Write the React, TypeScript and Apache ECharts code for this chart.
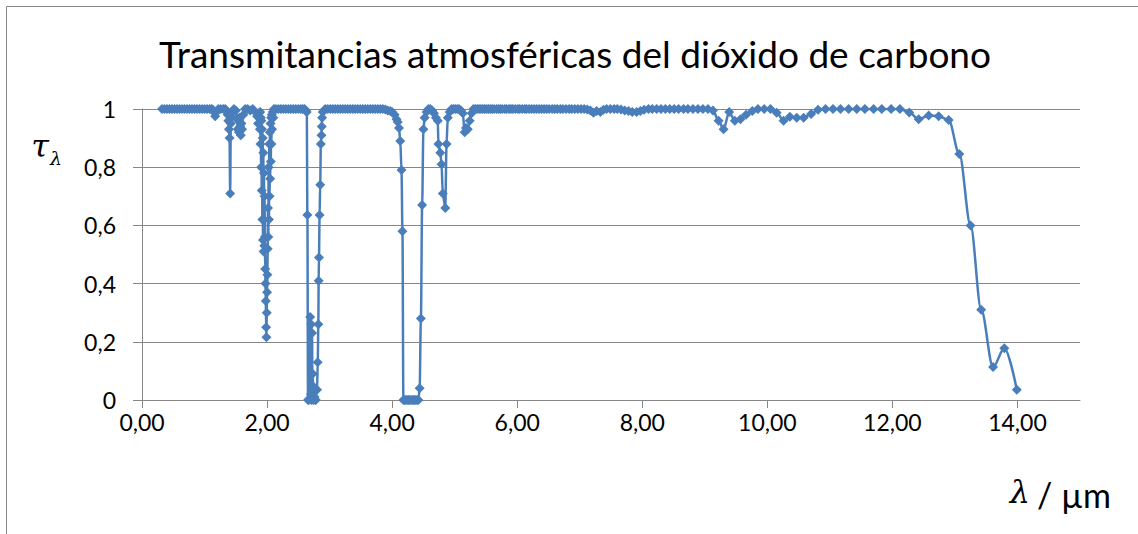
import React, { useEffect, useRef } from "react";
import * as echarts from "echarts";

const TITLE = "Transmitancias atmosféricas del dióxido de carbono";
const X_TICKS = [0, 2, 4, 6, 8, 10, 12, 14];
const Y_TICKS = [0, 0.2, 0.4, 0.6, 0.8, 1];

// [wavelength µm, transmittance]
const visNir: [number, number][] = [
  [0.32, 1], [0.36, 1], [0.40, 1], [0.44, 1], [0.48, 1], [0.52, 1], [0.56, 1], [0.60, 1],
  [0.64, 1], [0.68, 1], [0.72, 1], [0.76, 1], [0.80, 1], [0.84, 1], [0.88, 1], [0.92, 1],
  [0.96, 1], [1.00, 1], [1.04, 1], [1.08, 1], [1.11, 1], [1.13, 0.998], [1.15, 0.99],
  [1.17, 0.975], [1.19, 0.99], [1.22, 1], [1.26, 1], [1.30, 1], [1.33, 1],
];

const band14: [number, number][] = [
  [1.35, 0.995], [1.37, 0.98], [1.38, 0.96], [1.39, 0.93], [1.40, 0.9], [1.41, 0.71],
  [1.42, 0.95], [1.43, 0.97], [1.45, 0.99], [1.47, 1], [1.50, 0.995], [1.52, 0.97],
  [1.53, 0.93], [1.54, 0.96], [1.55, 0.92], [1.56, 0.97], [1.57, 0.94], [1.58, 0.91],
  [1.59, 0.95], [1.60, 0.93], [1.62, 0.98], [1.65, 1], [1.69, 1], [1.73, 0.995],
  [1.77, 1], [1.81, 0.99], [1.84, 0.975], [1.855, 0.95], [1.87, 0.985],
];

const band20: [number, number][] = [
  [1.88, 0.97], [1.885, 0.93], [1.89, 0.99], [1.895, 0.88], [1.9, 0.97], [1.905, 0.8],
  [1.91, 0.96], [1.915, 0.72], [1.92, 0.93], [1.925, 0.62], [1.93, 0.9], [1.935, 0.55],
  [1.94, 0.85], [1.945, 0.51], [1.95, 0.78], [1.955, 0.53], [1.96, 0.7], [1.965, 0.56],
  [1.97, 0.45], [1.975, 0.4], [1.98, 0.34], [1.985, 0.25], [1.99, 0.216], [1.995, 0.3],
  [2.0, 0.37], [2.005, 0.43], [2.01, 0.52], [2.015, 0.66], [2.02, 0.56], [2.025, 0.8],
  [2.03, 0.62], [2.035, 0.88], [2.04, 0.7], [2.045, 0.92], [2.05, 0.76], [2.055, 0.95],
  [2.06, 0.82], [2.065, 0.97], [2.07, 0.88], [2.075, 0.98], [2.08, 0.93], [2.09, 0.99],
  [2.1, 0.97], [2.11, 1],
];

const nir23: [number, number][] = [
  [2.14, 1], [2.18, 1], [2.22, 1], [2.26, 1], [2.30, 1], [2.34, 1], [2.38, 1],
  [2.42, 1], [2.46, 1], [2.50, 1], [2.54, 1], [2.57, 1],
];

const band27: [number, number][] = [
  [2.6, 1], [2.62, 0.995], [2.635, 0.99], [2.645, 0.636], [2.655, 0], [2.67, 0],
  [2.68, 0.005], [2.69, 0.285], [2.7, 0.02], [2.705, 0.26], [2.71, 0], [2.72, 0.23],
  [2.725, 0.01], [2.73, 0.09], [2.74, 0], [2.75, 0.045], [2.76, 0.01], [2.77, 0],
  [2.78, 0], [2.8, 0.035], [2.81, 0.13], [2.82, 0.26], [2.825, 0.41], [2.83, 0.49],
  [2.84, 0.636], [2.85, 0.74], [2.86, 0.88], [2.87, 0.91], [2.875, 0.94], [2.88, 0.97],
  [2.89, 0.99], [2.91, 0.995], [2.93, 1],
];

const mwir: [number, number][] = [
  [2.97, 1], [3.01, 1], [3.05, 1], [3.09, 1], [3.13, 1], [3.17, 1], [3.21, 1], [3.25, 1],
  [3.29, 1], [3.33, 1], [3.37, 1], [3.41, 1], [3.45, 1], [3.49, 1], [3.53, 1], [3.57, 1],
  [3.61, 1], [3.65, 1], [3.69, 1], [3.73, 1], [3.77, 1], [3.81, 1], [3.85, 1],
  [3.89, 0.998], [3.93, 0.995], [3.97, 0.993],
];

const band43: [number, number][] = [
  [4.0, 0.99], [4.04, 0.98], [4.07, 0.965], [4.09, 0.955], [4.11, 0.935], [4.13, 0.89],
  [4.15, 0.79], [4.165, 0.58], [4.18, 0], [4.2, 0], [4.22, 0], [4.24, 0], [4.26, 0],
  [4.28, 0], [4.3, 0], [4.32, 0], [4.34, 0], [4.36, 0], [4.38, 0], [4.4, 0], [4.42, 0],
  [4.44, 0.04], [4.46, 0.28], [4.48, 0.67], [4.5, 0.93], [4.52, 0.97], [4.55, 0.99],
  [4.58, 1], [4.61, 1], [4.64, 0.995], [4.67, 0.985], [4.7, 0.97], [4.73, 0.96],
  [4.74, 0.88], [4.77, 0.85], [4.79, 0.81], [4.81, 0.71], [4.85, 0.66], [4.87, 0.88],
  [4.89, 0.97], [4.92, 0.99], [4.95, 1], [4.98, 1], [5.01, 1], [5.04, 1], [5.07, 1],
  [5.1, 0.995], [5.13, 0.985], [5.16, 0.92], [5.18, 0.935], [5.21, 0.93], [5.24, 0.96],
  [5.27, 0.985], [5.3, 1],
];

const lwir: [number, number][] = [
  [5.33, 1], [5.36, 1], [5.39, 1], [5.42, 1], [5.45, 1], [5.48, 1], [5.51, 1], [5.54, 1],
  [5.57, 1], [5.6, 1], [5.63, 1], [5.67, 1], [5.7, 1], [5.73, 1], [5.76, 1], [5.8, 1],
  [5.83, 1], [5.87, 1], [5.9, 1], [5.93, 1], [5.97, 1], [6.01, 1], [6.04, 1], [6.08, 1],
  [6.12, 1], [6.15, 1], [6.19, 1], [6.23, 1], [6.27, 1], [6.31, 1], [6.35, 1], [6.39, 1],
  [6.43, 1], [6.47, 1], [6.51, 1], [6.56, 1], [6.6, 1], [6.64, 1], [6.69, 1], [6.73, 1],
  [6.78, 1], [6.83, 1], [6.87, 1], [6.92, 1], [6.97, 1], [7.02, 1], [7.07, 1],
  [7.12, 0.998], [7.17, 0.995], [7.22, 0.987], [7.27, 0.993], [7.33, 0.99], [7.38, 0.997],
  [7.43, 1], [7.49, 1], [7.55, 1], [7.6, 1], [7.66, 0.998], [7.72, 0.995], [7.78, 0.993],
  [7.84, 0.99], [7.91, 0.99], [7.97, 0.993], [8.03, 0.997], [8.1, 1], [8.16, 1], [8.23, 1],
  [8.3, 1], [8.37, 1], [8.44, 1], [8.51, 1], [8.58, 1], [8.66, 1], [8.73, 1], [8.81, 1],
  [8.89, 1], [8.97, 1], [9.05, 1], [9.13, 0.995],
];

const band96: [number, number][] = [
  [9.22, 0.96], [9.3, 0.93], [9.39, 0.99], [9.48, 0.96], [9.57, 0.965], [9.66, 0.98],
  [9.76, 0.993], [9.85, 1], [9.95, 1], [10.05, 1], [10.15, 0.987], [10.26, 0.96],
  [10.36, 0.973], [10.47, 0.97], [10.58, 0.97], [10.7, 0.983], [10.81, 0.997], [10.93, 1],
  [11.05, 1], [11.17, 1], [11.3, 1], [11.43, 1], [11.56, 1], [11.7, 1], [11.83, 1],
  [11.98, 1], [12.12, 1],
];

const band15: [number, number][] = [
  [12.27, 0.988], [12.42, 0.965], [12.58, 0.978], [12.74, 0.975], [12.9, 0.962],
  [13.07, 0.845], [13.25, 0.6], [13.42, 0.31], [13.61, 0.113], [13.79, 0.178], [13.99, 0.035],
];

const GRAY = "#868686";
const BLUE = "#4a7ebb";
const FONT = "Lato, 'Open Sans', sans-serif";

export default function App() {
  const ref = useRef<HTMLDivElement>(null);
  useEffect(() => {
    const chart = echarts.init(ref.current!, null, { renderer: "svg" });
    const data = [
      ...visNir, ...band14, ...band20, ...nir23, ...band27, ...mwir,
      ...band43, ...lwir, ...band96, ...band15,
    ];
    chart.setOption({
      animation: false,
      backgroundColor: "#ffffff",
      grid: { left: 142, right: 58, top: 109, bottom: 134, containLabel: false },
      xAxis: {
        type: "value",
        min: 0,
        max: 15,
        interval: 2,
        axisLine: { show: true, lineStyle: { color: GRAY, width: 1 } },
        axisTick: { show: true, customValues: X_TICKS, length: 8, lineStyle: { color: GRAY } },
        splitLine: { show: false },
        axisLabel: {
          customValues: X_TICKS,
          margin: 10,
          color: "#000",
          fontFamily: FONT,
          fontSize: 23,
          formatter: (v: number) => v.toFixed(2).replace(".", ","),
        },
      },
      yAxis: {
        type: "value",
        min: 0,
        max: 1,
        interval: 0.2,
        axisLine: { show: true, lineStyle: { color: GRAY, width: 1 } },
        axisTick: { show: true, length: 9, lineStyle: { color: GRAY } },
        splitLine: { show: true, lineStyle: { color: GRAY, width: 1 } },
        axisLabel: {
          customValues: Y_TICKS,
          margin: 26,
          color: "#000",
          fontFamily: FONT,
          fontSize: 23,
          formatter: (v: number) =>
            v === 0 ? "0" : v === 1 ? "1" : v.toFixed(1).replace(".", ","),
        },
      },
      graphic: [
        {
          type: "rect",
          z: -10,
          shape: { x: 6.5, y: 6.5, width: 1300, height: 700 },
          style: { fill: "none", stroke: GRAY, lineWidth: 1 },
        },
        {
          type: "text",
          x: 575,
          y: 53,
          style: {
            text: TITLE,
            font: `normal 37px ${FONT}`,
            fill: "#000",
            textAlign: "center",
            align: "center",
            textVerticalAlign: "middle",
            verticalAlign: "middle",
          },
        },
        {
          type: "text",
          x: 40,
          y: 146,
          style: {
            text: "τ",
            font: `italic 32px 'DejaVu Serif', serif`,
            fill: "#000",
            textAlign: "center",
            align: "center",
            textVerticalAlign: "middle",
            verticalAlign: "middle",
          },
        },
        {
          type: "text",
          x: 56,
          y: 158,
          style: {
            text: "λ",
            font: `italic 19px 'DejaVu Serif', serif`,
            fill: "#000",
            textAlign: "center",
            align: "center",
            textVerticalAlign: "middle",
            verticalAlign: "middle",
          },
        },
        {
          type: "text",
          x: 1030,
          y: 492,
          style: {
            text: "λ",
            font: `italic 32px 'DejaVu Serif', serif`,
            fill: "#000",
            textAlign: "right",
            align: "right",
            textVerticalAlign: "middle",
            verticalAlign: "middle",
          },
        },
        {
          type: "text",
          x: 1111,
          y: 494,
          style: {
            text: "/ µm",
            font: `normal 34px ${FONT}`,
            fill: "#000",
            textAlign: "right",
            align: "right",
            textVerticalAlign: "middle",
            verticalAlign: "middle",
          },
        },
      ],
      series: [
        {
          type: "line",
          data,
          smooth: 0.33,
          smoothMonotone: "x",
          symbol: "diamond",
          symbolSize: 10,
          showAllSymbol: true,
          itemStyle: { color: BLUE },
          lineStyle: { color: BLUE, width: 2.5 },
          z: 3,
        },
      ],
    });
    return () => chart.dispose();
  }, []);
  return (
    <div
      ref={ref}
      style={{ position: "fixed", left: 0, top: 0, width: 1138, height: 534, background: "#fff" }}
    />
  );
}
